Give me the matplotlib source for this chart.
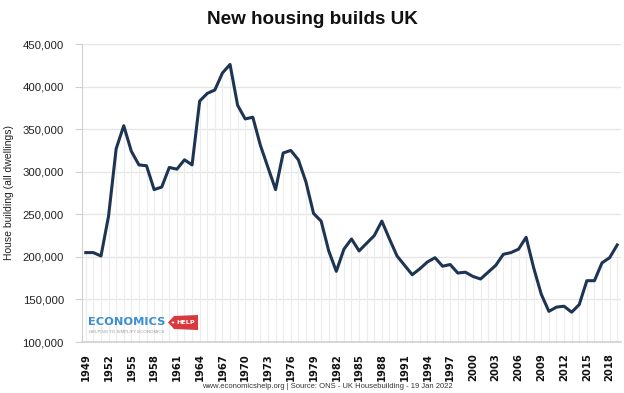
import matplotlib
matplotlib.use("Agg")
import matplotlib.pyplot as plt
from matplotlib.patches import Polygon, Circle

years = list(range(1949, 2020))
dwellings = [205000, 205000, 201000, 248000, 327000, 354000, 324000, 308000, 307000, 279000,
             282000, 305000, 303000, 314000, 308000, 383000, 392000, 396000, 416000, 426000,
             378000, 362000, 364000, 331000, 305000, 279000, 322000, 325000, 314000, 288000,
             251000, 242000, 207000, 183000, 209000, 221000, 207000, 216000, 225000, 242000,
             221000, 201000, 190000, 179000, 186000, 194000, 199000, 189000, 191000, 181000,
             182000, 177000, 174000, 182000, 190000, 203000, 205000, 209000, 223000, 187000,
             156000, 136000, 141000, 142000, 135000, 144000, 172000, 172000, 193000, 199000,
             214000]
tick_years = list(range(1949, 2019, 3))
y_ticks = [100000, 150000, 200000, 250000, 300000, 350000, 400000, 450000]

plt.rcParams['font.family'] = ['Liberation Sans', 'DejaVu Sans']

fig = plt.figure(figsize=(6.24, 3.93), dpi=100)
ax = fig.add_axes([82 / 624, 1 - 342 / 393, (621 - 82) / 624, (342 - 44) / 393])

ax.vlines(years, 100000, dwellings, color='#ececec', lw=0.8, zorder=1)
ax.plot(years, dwellings, color='#1d3452', lw=2.2, zorder=3, solid_joinstyle='round')

ax.set_xlim(1948.5, 2019.5)
ax.set_ylim(100000, 450000)
ax.set_yticks(y_ticks)
ax.set_yticklabels([f"{v:,}" for v in y_ticks], fontsize=8.2, color='#222222')
ax.set_xticks(tick_years)
ax.set_xticklabels([str(y) for y in tick_years], rotation=90, fontsize=8,
                   fontweight='bold', family='DejaVu Sans', fontstretch='condensed',
                   color='#111111')
ax.tick_params(axis='x', length=0, pad=8)
ax.tick_params(axis='y', length=5, color='#d0d0d0', pad=8)
ax.grid(axis='y', color='#e6e6e6', lw=1, zorder=0)
ax.set_axisbelow(True)
for s in ['top', 'right']:
    ax.spines[s].set_visible(False)
ax.spines['left'].set_color('#d0d0d0')
ax.spines['bottom'].set_color('#d0d0d0')
ax.spines['bottom'].set_linewidth(1.2)

ax.set_ylabel("House building (all dwellings)", fontsize=7.5, color='#222222', labelpad=6)
fig.text(0.5, 1 - 19 / 393, "New housing builds UK", ha='center', va='center',
         fontsize=13.6, fontweight='bold', color='#111111')
fig.text(327 / 624, 1 - 387 / 393, "www.economicshelp.org | Source: ONS - UK Housebuilding - 19 Jan 2022",
         ha='center', va='center', fontsize=5.5, color='#333333')

# logo
fig.text(88 / 624, 1 - 322 / 393, "ECONOMICS", ha='left', va='center', fontsize=8.2,
         fontweight='heavy', family='DejaVu Sans', color='#3b8fd2')
tag = [(168, 322.5), (174, 316), (198, 315), (198, 330), (174, 329)]
fig.patches.append(Polygon([(x / 624, 1 - y / 393) for x, y in tag], closed=True,
                           transform=fig.transFigure, facecolor='#d8393f', edgecolor='none'))
fig.patches.append(Circle((173 / 624, 1 - 322.5 / 393), 1.4 / 624, transform=fig.transFigure,
                          facecolor='white', edgecolor='none'))
fig.text(186 / 624, 1 - 322.5 / 393, "HELP", ha='center', va='center', fontsize=4.6,
         fontweight='bold', family='DejaVu Sans', color='white')
fig.text(89 / 624, 1 - 332 / 393, "HELPING TO SIMPLIFY ECONOMICS", ha='left', va='center',
         fontsize=3.2, color='#9a9a9a')

fig.savefig("out.png", dpi=100)
